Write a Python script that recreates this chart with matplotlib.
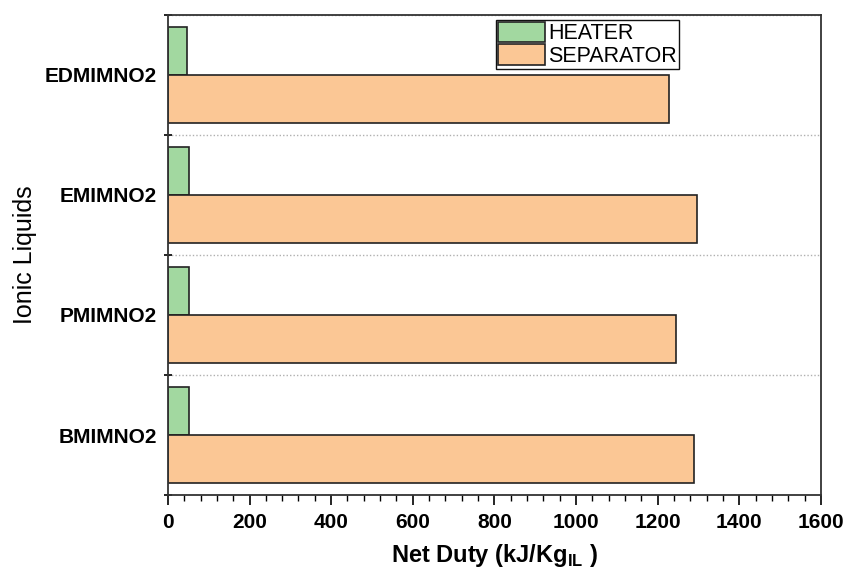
import numpy as np
import matplotlib
matplotlib.use("Agg")
import matplotlib.pyplot as plt
from matplotlib.ticker import MultipleLocator, FixedLocator

plt.rcParams['font.family'] = ['Liberation Sans', 'DejaVu Sans']
plt.rcParams['mathtext.fontset'] = 'custom'
plt.rcParams['mathtext.bf'] = 'Liberation Sans:bold'
plt.rcParams['mathtext.rm'] = 'Liberation Sans'

liquids = ["BMIMNO2", "PMIMNO2", "EMIMNO2", "EDMIMNO2"]
heater = [51, 51, 51, 47]
separator = [1289, 1245, 1297, 1228]

pos = np.arange(len(liquids))
h = 0.4

fig = plt.figure(figsize=(8.48, 5.71), dpi=100)
ax = fig.add_axes([0.198, 0.133, 0.770, 0.841])

ax.barh(pos + h / 2, heater, height=h, color='#a2d8a0', edgecolor='#222222',
        linewidth=1.2, label='HEATER')
ax.barh(pos - h / 2, separator, height=h, color='#fbc795', edgecolor='#222222',
        linewidth=1.2, label='SEPARATOR')

ax.set_xlim(0, 1600)
ax.set_ylim(-0.5, 3.5)
ax.xaxis.set_major_locator(MultipleLocator(200))
ax.xaxis.set_minor_locator(MultipleLocator(40))

ax.set_yticks(pos)
ax.set_yticklabels(liquids, fontweight='bold', fontsize=15)
ax.tick_params(axis='y', which='major', length=0, pad=8)
ax.yaxis.set_minor_locator(FixedLocator(np.arange(-0.5, 4.0, 1.0)))
ax.tick_params(axis='y', which='minor', length=6, width=1.2, direction='inout')
ax.grid(axis='y', which='minor', color='#b0b0b0', linestyle=(0, (1, 1.5)), linewidth=1)

ax.tick_params(axis='x', which='major', length=7, width=1.2, labelsize=15, pad=6)
ax.tick_params(axis='x', which='minor', length=4, width=1.0)
for lbl in ax.get_xticklabels():
    lbl.set_fontweight('bold')

for sp in ax.spines.values():
    sp.set_color('#333333')
    sp.set_linewidth(1.3)

ax.set_xlabel("Net Duty (kJ/Kg$_{\\mathbf{IL}}$ )", fontweight='bold', fontsize=17, labelpad=7)
ax.set_ylabel("Ionic Liquids", fontsize=18)
ax.yaxis.set_label_coords(-0.2, 0.5)

leg = ax.legend(loc='upper left', bbox_to_anchor=(0.503, 0.99), fontsize=15.5,
                fancybox=False, framealpha=1, edgecolor='#111111',
                handlelength=2.15, handleheight=1.1, handletextpad=0.15,
                borderpad=0.1, labelspacing=0.0, borderaxespad=0)
leg.get_frame().set_linewidth(1.0)

fig.savefig("out.png", dpi=100)
